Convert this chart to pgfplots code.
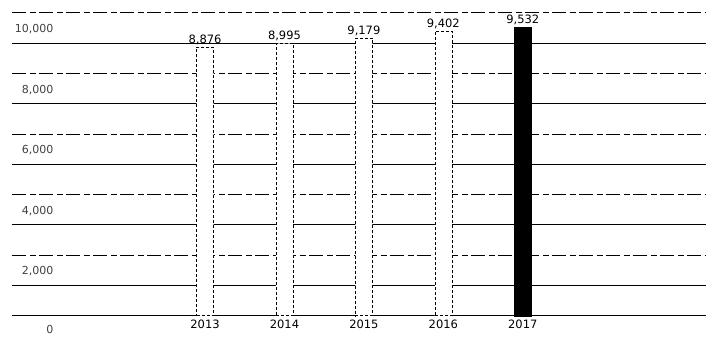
\documentclass[border=0pt]{standalone}
\usepackage{pgfplots}
\pgfplotsset{compat=1.18}
\usepackage{fontspec}
\setmainfont{DejaVu Sans}
\begin{document}
\begin{tikzpicture}
\begin{axis}[
  scale only axis,
  width=694pt, height=303pt,
  xmin=-2.43, xmax=6.3,
  ymin=0, ymax=10000,
  axis line style={draw=none},
  major tick length=0pt, minor tick length=0pt,
  xtick={0,1,2,3,4},
  xticklabels={2013,2014,2015,2016,2017},
  xticklabel style={font=\fontsize{11.5}{13}\selectfont, yshift=-1pt},
  ytick={2000,4000,6000,8000,10000},
  minor ytick={1000,3000,5000,7000,9000},
  extra y ticks={0},
  extra y tick style={major grid style={black, solid, line width=1pt}, yticklabel style={yshift=2pt}},
  ymajorgrids, yminorgrids,
  major grid style={black, dashed, dash pattern=on 14pt off 4pt on 6pt off 3pt, line width=1pt},
  minor grid style={black, solid, line width=1pt},
  scaled y ticks=false,
  yticklabel style={anchor=north east, xshift=45pt, yshift=-8pt, text=black!75, font=\fontsize{11}{13}\selectfont},
  /pgf/number format/assume math mode=true,
  /pgf/number format/1000 sep={,},
  bar width=17pt,
  nodes near coords,
  nodes near coords style={font=\fontsize{11.5}{13}\selectfont, /pgf/number format/1000 sep={,}, inner sep=2pt},
  clip=false,
]
\addplot[ybar, fill=white, draw=black, densely dashed, line width=0.6pt] coordinates {(0,8876) (1,8995) (2,9179) (3,9402)};
\addplot[ybar, fill=black, draw=black] coordinates {(4,9532)};
\end{axis}
\path (current axis.south west) ++(-12pt,-22pt) coordinate (bl);
\path (current axis.north east) ++(0pt,13pt) coordinate (tr);
\useasboundingbox (bl) rectangle (tr);
\end{tikzpicture}
\end{document}
